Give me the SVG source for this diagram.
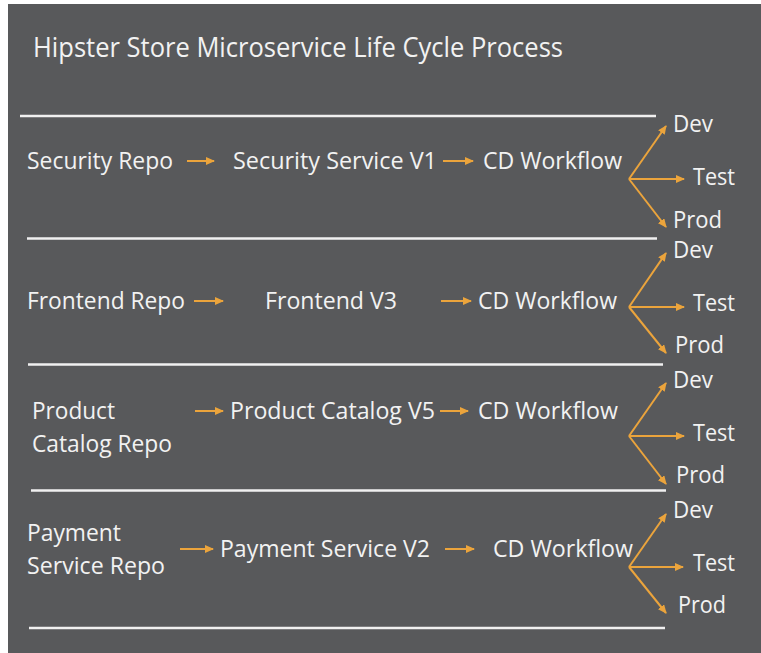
<svg xmlns="http://www.w3.org/2000/svg" width="761" height="653" viewBox="0 0 761 653">
<style>
.t{font-family:"Open Sans",Lato,"Liberation Sans",sans-serif;font-size:23px;fill:#f2f2f2;}
.title{font-family:"Open Sans",Lato,"Liberation Sans",sans-serif;font-size:27px;fill:#f2f2f2;}
.sep{stroke:#f0f0f0;stroke-width:2.5;}
.c{stroke:#eba43c;stroke-width:2;fill:none;marker-end:url(#ah);}
</style>
<defs>
<marker id="ah" markerUnits="userSpaceOnUse" markerWidth="9" markerHeight="8" refX="8" refY="4" orient="auto">
<path d="M0,0 L9,4 L0,8 Z" fill="#eba43c"/>
</marker>
</defs>
<rect x="0" y="0" width="761" height="653" fill="#ffffff"/>
<rect x="8" y="4" width="753" height="649" fill="#58595b"/>
<text class="title" x="33" y="57" textLength="530" lengthAdjust="spacingAndGlyphs">Hipster Store Microservice Life Cycle Process</text>
<g id="separators">
<line class="sep" x1="20" y1="116" x2="656" y2="116"/>
<line class="sep" x1="27" y1="238.5" x2="657" y2="238.5"/>
<line class="sep" x1="28" y1="364.5" x2="663" y2="364.5"/>
<line class="sep" x1="31" y1="490.5" x2="666" y2="490.5"/>
<line class="sep" x1="29" y1="628" x2="665" y2="628"/>
</g>
<g id="connectors">
<line class="c" x1="187" y1="161" x2="214" y2="161"/>
<line class="c" x1="443" y1="161" x2="473" y2="161"/>
<line class="c" x1="629" y1="179" x2="666" y2="126"/>
<line class="c" x1="629" y1="179" x2="684" y2="179"/>
<line class="c" x1="629" y1="179" x2="666" y2="227"/>
<line class="c" x1="194" y1="301" x2="223" y2="301"/>
<line class="c" x1="441" y1="301" x2="471" y2="301"/>
<line class="c" x1="629" y1="307" x2="666" y2="253"/>
<line class="c" x1="629" y1="307" x2="684" y2="307"/>
<line class="c" x1="629" y1="307" x2="666" y2="353"/>
<line class="c" x1="195" y1="411" x2="223" y2="411"/>
<line class="c" x1="440" y1="411" x2="468" y2="411"/>
<line class="c" x1="629" y1="436" x2="666" y2="383"/>
<line class="c" x1="629" y1="436" x2="684" y2="436"/>
<line class="c" x1="629" y1="436" x2="666" y2="484"/>
<line class="c" x1="180" y1="549" x2="213" y2="549"/>
<line class="c" x1="445" y1="549" x2="474" y2="549"/>
<line class="c" x1="629" y1="567" x2="666" y2="514"/>
<line class="c" x1="629" y1="567" x2="683" y2="567"/>
<line class="c" x1="629" y1="567" x2="666" y2="613"/>
</g>
<g id="security-repo"><text class="t" x="27" y="169" textLength="146" lengthAdjust="spacingAndGlyphs">Security Repo</text></g>
<g id="security-service"><text class="t" x="233" y="169" textLength="204" lengthAdjust="spacingAndGlyphs">Security Service V1</text></g>
<g id="cd-workflow-1"><text class="t" x="483" y="169" textLength="139" lengthAdjust="spacingAndGlyphs">CD Workflow</text></g>
<g id="dev-1"><text class="t" x="673" y="132" textLength="40" lengthAdjust="spacingAndGlyphs">Dev</text></g>
<g id="test-1"><text class="t" x="693" y="185" textLength="42" lengthAdjust="spacingAndGlyphs">Test</text></g>
<g id="prod-1"><text class="t" x="673" y="228" textLength="49" lengthAdjust="spacingAndGlyphs">Prod</text></g>

<g id="frontend-repo"><text class="t" x="27" y="309" textLength="158" lengthAdjust="spacingAndGlyphs">Frontend Repo</text></g>
<g id="frontend-service"><text class="t" x="265" y="309" textLength="132" lengthAdjust="spacingAndGlyphs">Frontend V3</text></g>
<g id="cd-workflow-2"><text class="t" x="478" y="309" textLength="139" lengthAdjust="spacingAndGlyphs">CD Workflow</text></g>
<g id="dev-2"><text class="t" x="673" y="258" textLength="40" lengthAdjust="spacingAndGlyphs">Dev</text></g>
<g id="test-2"><text class="t" x="693" y="311" textLength="42" lengthAdjust="spacingAndGlyphs">Test</text></g>
<g id="prod-2"><text class="t" x="675" y="353" textLength="49" lengthAdjust="spacingAndGlyphs">Prod</text></g>

<g id="product-catalog-repo"><text class="t" x="32" y="419" textLength="83" lengthAdjust="spacingAndGlyphs">Product</text><text class="t" x="32" y="452" textLength="140" lengthAdjust="spacingAndGlyphs">Catalog Repo</text></g>
<g id="product-catalog-service"><text class="t" x="230" y="419" textLength="205" lengthAdjust="spacingAndGlyphs">Product Catalog V5</text></g>
<g id="cd-workflow-3"><text class="t" x="478" y="419" textLength="140" lengthAdjust="spacingAndGlyphs">CD Workflow</text></g>
<g id="dev-3"><text class="t" x="673" y="388" textLength="40" lengthAdjust="spacingAndGlyphs">Dev</text></g>
<g id="test-3"><text class="t" x="693" y="441" textLength="42" lengthAdjust="spacingAndGlyphs">Test</text></g>
<g id="prod-3"><text class="t" x="676" y="483" textLength="49" lengthAdjust="spacingAndGlyphs">Prod</text></g>

<g id="payment-service-repo"><text class="t" x="27" y="541" textLength="94" lengthAdjust="spacingAndGlyphs">Payment</text><text class="t" x="27" y="574" textLength="138" lengthAdjust="spacingAndGlyphs">Service Repo</text></g>
<g id="payment-service"><text class="t" x="220" y="557" textLength="210" lengthAdjust="spacingAndGlyphs">Payment Service V2</text></g>
<g id="cd-workflow-4"><text class="t" x="493" y="557" textLength="140" lengthAdjust="spacingAndGlyphs">CD Workflow</text></g>
<g id="dev-4"><text class="t" x="673" y="518" textLength="40" lengthAdjust="spacingAndGlyphs">Dev</text></g>
<g id="test-4"><text class="t" x="693" y="571" textLength="42" lengthAdjust="spacingAndGlyphs">Test</text></g>
<g id="prod-4"><text class="t" x="678" y="613" textLength="48" lengthAdjust="spacingAndGlyphs">Prod</text></g>
</svg>
